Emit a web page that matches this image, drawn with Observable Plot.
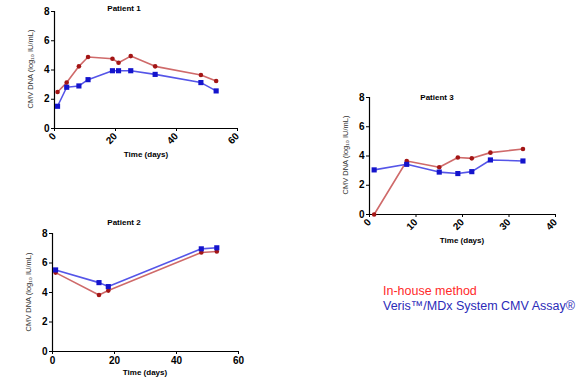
<!DOCTYPE html>
<html>
<head>
<meta charset="utf-8">
<script src="https://cdn.jsdelivr.net/npm/d3@7"></script>
<script src="https://cdn.jsdelivr.net/npm/@observablehq/plot@0.6"></script>
<style>
  html, body { margin: 0; padding: 0; background: #fff; }
  #root { position: relative; width: 587px; height: 377px; overflow: hidden; font-family: "Liberation Sans", Arial, sans-serif; }
  .abs { position: absolute; }
  .title { font-size: 8px; font-weight: bold; color: #000; white-space: nowrap; transform: translate(-50%, -50%); }
  .xlab { font-size: 8px; font-weight: bold; color: #000; white-space: nowrap; transform: translate(-50%, -50%); }
  .ylab { font-size: 7.5px; color: #333; white-space: nowrap; transform: translate(-50%, -50%) rotate(-90deg); }
  .leg { font-family: "Liberation Sans", Arial, sans-serif; font-size: 12.5px; line-height: 14.5px; white-space: nowrap; }
</style>
</head>
<body>
<div id="root"></div>
<script>
// ---- Data ----
const seriesNames = ["In-house method", "Veris\u2122/MDx System CMV Assay\u00AE"];
const yTicks = [0, 2, 4, 6, 8];

const p1Days = [1, 4, 8, 11, 19, 21, 25, 33, 48, 53];
const p1InHouse = [2.5, 3.14, 4.25, 4.89, 4.77, 4.5, 4.95, 4.25, 3.66, 3.25];
const p1Veris = [1.52, 2.82, 2.91, 3.34, 3.95, 3.95, 3.95, 3.7, 3.14, 2.57];
const p1XTicks = [0, 20, 40, 60];

const p2Days = [1, 15, 18, 48, 53];
const p2InHouse = [5.35, 3.83, 4.13, 6.71, 6.78];
const p2Veris = [5.53, 4.67, 4.4, 6.96, 7.03];
const p2XTicks = [0, 20, 40, 60];

const p3Days = [1, 8, 15, 19, 22, 26, 33];
const p3InHouse = [0, 3.66, 3.23, 3.9, 3.84, 4.23, 4.48];
const p3Veris = [3.05, 3.43, 2.9, 2.8, 2.93, 3.73, 3.66];
const p3XTicks = [0, 10, 20, 30, 40];

const panelTitles = ["Patient 1", "Patient 2", "Patient 3"];
const xLabel = "Time (days)";
const yLabel = "CMV DNA (log\u2081\u2080 IU/mL)";

// ---- Styles ----
const RED_LINE = "#cf6a6a", RED_DOT = "#a31515";
const BLUE_LINE = "#5555e8", BLUE_DOT = "#1414cc";

const root = document.getElementById("root");

function rows(days, vals) { return days.map((d, i) => ({day: d, v: vals[i]})); }

function panel(cfg) {
  const red = rows(cfg.days, cfg.inHouse);
  const blue = rows(cfg.days, cfg.veris);
  const chart = Plot.plot({
    width: cfg.w, height: cfg.h,
    marginLeft: cfg.ml, marginRight: cfg.mr, marginTop: cfg.mt, marginBottom: cfg.mb,
    style: {fontFamily: "Liberation Sans, Arial, sans-serif", background: "transparent", overflow: "visible"},
    x: {domain: [cfg.xTicks[0], cfg.xTicks[cfg.xTicks.length - 1]]},
    y: {domain: [0, 8]},
    marks: [
      Plot.ruleX([0], {stroke: "#000", strokeWidth: 1.2}),
      Plot.ruleY([0], {stroke: "#000", strokeWidth: 1.2}),
      Plot.axisY({ticks: yTicks, label: null, tickSize: 3, tickPadding: 2, fontSize: 10, fontWeight: "bold", stroke: "#000"}),
      Plot.axisX({ticks: cfg.xTicks, label: null, tickSize: 3, tickPadding: cfg.rot ? 3 : 2, fontSize: 10, fontWeight: "bold",
                  tickRotate: cfg.rot ? -45 : 0, stroke: "#000"}),
      Plot.line(red, {x: "day", y: "v", stroke: RED_LINE, strokeWidth: 1.6}),
      Plot.line(blue, {x: "day", y: "v", stroke: BLUE_LINE, strokeWidth: 1.6}),
      Plot.dot(red, {x: "day", y: "v", fill: RED_DOT, r: 2.3, symbol: "circle"}),
      Plot.dot(blue, {x: "day", y: "v", fill: BLUE_DOT, r: 2.9, symbol: "square"})
    ]
  });
  chart.classList.add("abs");
  chart.style.left = cfg.left + "px";
  chart.style.top = cfg.top + "px";
  root.appendChild(chart);

  const t = document.createElement("div");
  t.className = "abs title"; t.textContent = cfg.title;
  t.style.left = cfg.titleX + "px"; t.style.top = cfg.titleY + "px";
  root.appendChild(t);

  const xl = document.createElement("div");
  xl.className = "abs xlab"; xl.textContent = xLabel;
  xl.style.left = cfg.xlabX + "px"; xl.style.top = cfg.xlabY + "px";
  root.appendChild(xl);

  const yl = document.createElement("div");
  yl.className = "abs ylab"; yl.textContent = yLabel;
  yl.style.left = cfg.ylabX + "px"; yl.style.top = cfg.ylabY + "px";
  root.appendChild(yl);
}

panel({days: p1Days, inHouse: p1InHouse, veris: p1Veris, xTicks: p1XTicks, rot: true,
  left: 0, top: 0, w: 250, h: 165, ml: 54, mr: 13, mt: 11, mb: 37,
  title: panelTitles[0], titleX: 124, titleY: 8, xlabX: 146, xlabY: 154, ylabX: 30, ylabY: 69});

panel({days: p2Days, inHouse: p2InHouse, veris: p2Veris, xTicks: p2XTicks, rot: false,
  left: 0, top: 215, w: 250, h: 162, ml: 52, mr: 12, mt: 18, mb: 26,
  title: panelTitles[1], titleX: 124, titleY: 222, xlabX: 145, xlabY: 372, ylabX: 28, ylabY: 292});

panel({days: p3Days, inHouse: p3InHouse, veris: p3Veris, xTicks: p3XTicks, rot: true,
  left: 320, top: 85, w: 250, h: 165, ml: 49, mr: 15, mt: 12, mb: 36,
  title: panelTitles[2], titleX: 437, titleY: 97, xlabX: 462, xlabY: 240, ylabX: 345, ylabY: 155});

// legend
const l1 = document.createElement("div");
l1.className = "abs leg"; l1.textContent = seriesNames[0];
l1.style.left = "383px"; l1.style.top = "284px"; l1.style.color = "#ff2a2a";
root.appendChild(l1);
const l2 = document.createElement("div");
l2.className = "abs leg"; l2.textContent = seriesNames[1];
l2.style.left = "383px"; l2.style.top = "299px"; l2.style.color = "#2b2bb8";
root.appendChild(l2);
</script>
</body>
</html>
